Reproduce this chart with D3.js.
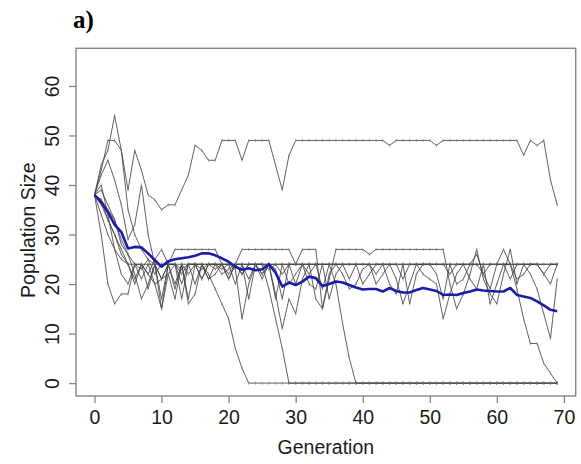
<!DOCTYPE html>
<html><head><meta charset="utf-8">
<script src="https://cdn.jsdelivr.net/npm/d3@7"></script>
<style>
html,body{margin:0;padding:0;background:#fff;}
svg{display:block;}
</style></head>
<body>
<svg id="chart" width="581" height="464"></svg>
<script>
// ---- data ----
const generations = d3.range(0, 70);
const xTicks = [0, 10, 20, 30, 40, 50, 60, 70];
const yTicks = [0, 10, 20, 30, 40, 50, 60];
const titleText = "a)";
const xLabel = "Generation";
const yLabel = "Population Size";

const runA = [38,43,49,49,47,39,47,43,38,37, 35,36,36,39,42,48,47,45,45,49, 49,49,45,49,49,49,49,44,39,46, 49,49,49,49,49,49,49,49,49,49, 49,49,49,49,48,49,49,49,49,49, 49,48,49,49,49,49,49,49,49,49, 49,49,49,49,46,49,48,49,41,36];
const runB = [38,40,34,27,22,20,24,21,24,20, 15,24,19,24,22,24,24,22,19,16, 13,7,3,0,0,0,0,0,0,0, 0,0,0,0,0,0,0,0,0,0, 0,0,0,0,0,0,0,0,0,0, 0,0,0,0,0,0,0,0,0,0, 0,0,0,0,0,0,0,0,0,0];
const runC = [38,30,20,16,18,18,24,23,25,22, 24,24,24,20,24,24,23,24,24,23, 24,24,22,24,24,24,19,13,7,0, 0,0,0,0,0,0,0,0,0,0, 0,0,0,0,0,0,0,0,0,0, 0,0,0,0,0,0,0,0,0,0, 0,0,0,0,0,0,0,0,0,0];
const runD = [38,37,33,30,26,24,21,24,22,25, 27,24,20,24,17,24,21,24,24,24, 24,20,24,17,24,22,24,24,22,24, 24,24,22,24,24,24,20,12,5,0, 0,0,0,0,0,0,0,0,0,0, 0,0,0,0,0,0,0,0,0,0, 0,0,0,0,0,0,0,0,0,0];
const runE = [38,44,47,54,47,35,30,27,25,24, 21,24,24,22,24,24,24,21,24,24, 22,24,24,21,24,24,24,23,17,24, 20,24,24,24,19,24,24,24,24,24, 24,24,22,24,24,24,21,24,24,24, 24,24,24,22,24,24,24,24,22,24, 24,24,24,19,13,8,8,4,2,0];
const runF = [38,34,30,27,25,24,24,24,24,24, 24,24,24,24,24,24,24,24,24,24, 24,24,24,24,24,24,24,24,24,24, 24,24,24,24,24,24,24,24,24,24, 24,24,24,24,24,24,24,24,24,24, 24,24,24,24,24,24,24,24,24,24, 24,24,24,24,24,24,24,24,24,24];
const runG = [38,42,45,41,36,29,32,40,30,24, 21,24,27,27,27,27,27,27,27,24, 21,24,27,27,27,27,27,27,27,27, 24,27,27,27,15,21,27,27,27,27, 27,26,27,27,27,27,27,27,27,27, 27,27,27,20,15,18,22,27,21,18, 16,22,27,20,24,24,24,22,24,24];
const runH = [38,39,36,33,28,26,22,17,20,24, 15,22,17,24,16,18,24,24,23,24, 24,23,13,20,24,22,24,18,11,17, 14,21,24,17,15,22,24,22,19,20, 23,24,20,22,24,21,16,20,24,22, 21,20,13,18,22,24,21,19,24,16, 20,24,21,24,24,22,19,14,9,21];
const runI = [38,36,33,30,27,24,20,24,19,24, 17,24,24,17,24,20,24,21,22,24, 21,24,22,24,24,21,24,17,24,20, 22,24,20,19,24,17,22,24,21,24, 20,22,24,24,20,18,24,16,22,24, 24,22,17,24,20,21,24,26,22,19, 24,27,24,21,22,24,24,22,20,24];
const runJ = [38,37,35,33,29,26,24,24,22,20, 21,22,24,23,24,24,21,24,24,22, 23,24,24,24,24,24,23,24,24,24, 24,24,24,24,24,24,24,24,24,24, 24,24,24,24,24,24,24,24,24,24, 24,24,24,24,24,24,24,24,24,24, 24,24,24,24,24,24,24,24,24,24];
const meanRun = [38,36.5,34.5,32,30.5,27.2,27.5,27.4,26.2,24.8, 23.5,24.6,25,25.2,25.4,25.7,26.2,26.2,25.8,25.2, 24.5,23.5,22.9,23.2,22.8,23,24,22.3,19.5,20.3, 19.8,20.5,21.5,21.2,19.6,20,20.5,20.3,19.8,19.3, 18.9,19,19,18.5,19.2,18.6,18.3,18.3,18.8,19.2, 18.9,18.6,17.8,17.9,17.8,18.2,18.5,18.9,18.7,18.6, 18.5,18.5,19.2,17.8,17.5,17.2,16.5,15.7,14.8,14.5];
const runs = [runA, runB, runC, runD, runE, runF, runG, runH, runI, runJ];

// ---- chart ----
const svg = d3.select("#chart");
const box = {left: 76, right: 575.7, top: 48.3, bottom: 396};
const x = d3.scaleLinear().domain([-2.76, 71.76]).range([box.left, box.right]);
const y = d3.scaleLinear().domain([-2.6, 67.6]).range([box.bottom, box.top]);

const line = d3.line().x((d, i) => x(generations[i])).y(d => y(d));

const gRuns = svg.append("g");
runs.forEach(r => {
  gRuns.append("path").datum(r)
    .attr("d", line).attr("fill", "none")
    .attr("stroke", "#3c3c3c").attr("stroke-width", 0.9).attr("stroke-opacity", 0.9);
  gRuns.selectAll(null).data(r).enter().append("line")
    .attr("x1", (d, i) => x(generations[i])).attr("x2", (d, i) => x(generations[i]))
    .attr("y1", d => y(d) - 1.6).attr("y2", d => y(d) + 1.6)
    .attr("stroke", "#777").attr("stroke-width", 0.6);
});

svg.append("path").datum(meanRun)
  .attr("d", line).attr("fill", "none")
  .attr("stroke", "#1c1ca8").attr("stroke-width", 2.6)
  .attr("stroke-linejoin", "round");

// box
svg.append("rect")
  .attr("x", box.left).attr("y", box.top)
  .attr("width", box.right - box.left).attr("height", box.bottom - box.top)
  .attr("fill", "none").attr("stroke", "#858585").attr("stroke-width", 1.4);

const font = "'Liberation Sans', Arial, sans-serif";

// x axis
const xAxis = svg.append("g").attr("transform", `translate(0,${box.bottom})`)
  .call(d3.axisBottom(x).tickValues(xTicks).tickSize(7).tickFormat(d3.format("d")));
xAxis.select(".domain").remove();
xAxis.selectAll(".tick line").attr("stroke", "#858585").attr("stroke-width", 1.3);
xAxis.selectAll(".tick text").attr("y", 28).attr("dy", 0)
  .attr("fill", "#1a1a1a").style("font-family", font).style("font-size", "19.5px");

// y axis
const yAxis = svg.append("g").attr("transform", `translate(${box.left},0)`)
  .call(d3.axisLeft(y).tickValues(yTicks).tickSize(7).tickFormat(d3.format("d")));
yAxis.select(".domain").remove();
yAxis.selectAll(".tick line").attr("stroke", "#858585").attr("stroke-width", 1.3);
yAxis.selectAll(".tick text")
  .attr("x", 0).attr("dy", 0).attr("text-anchor", "middle")
  .attr("transform", "translate(-17,0) rotate(-90)")
  .attr("fill", "#1a1a1a").style("font-family", font).style("font-size", "19.5px");

// axis titles
svg.append("text").attr("x", (box.left + box.right) / 2).attr("y", 454)
  .attr("text-anchor", "middle").attr("fill", "#1a1a1a")
  .style("font-family", font).style("font-size", "19.5px").text(xLabel);
svg.append("text")
  .attr("transform", `translate(35,${(box.top + box.bottom) / 2 + 8}) rotate(-90)`)
  .attr("text-anchor", "middle").attr("fill", "#1a1a1a")
  .style("font-family", font).style("font-size", "19.5px").text(yLabel);

// panel title
svg.append("text").attr("x", 73).attr("y", 28)
  .attr("fill", "#000").style("font-family", "'Liberation Serif', 'Times New Roman', serif")
  .style("font-weight", "bold").style("font-size", "25px").text(titleText);
</script>
</body></html>
